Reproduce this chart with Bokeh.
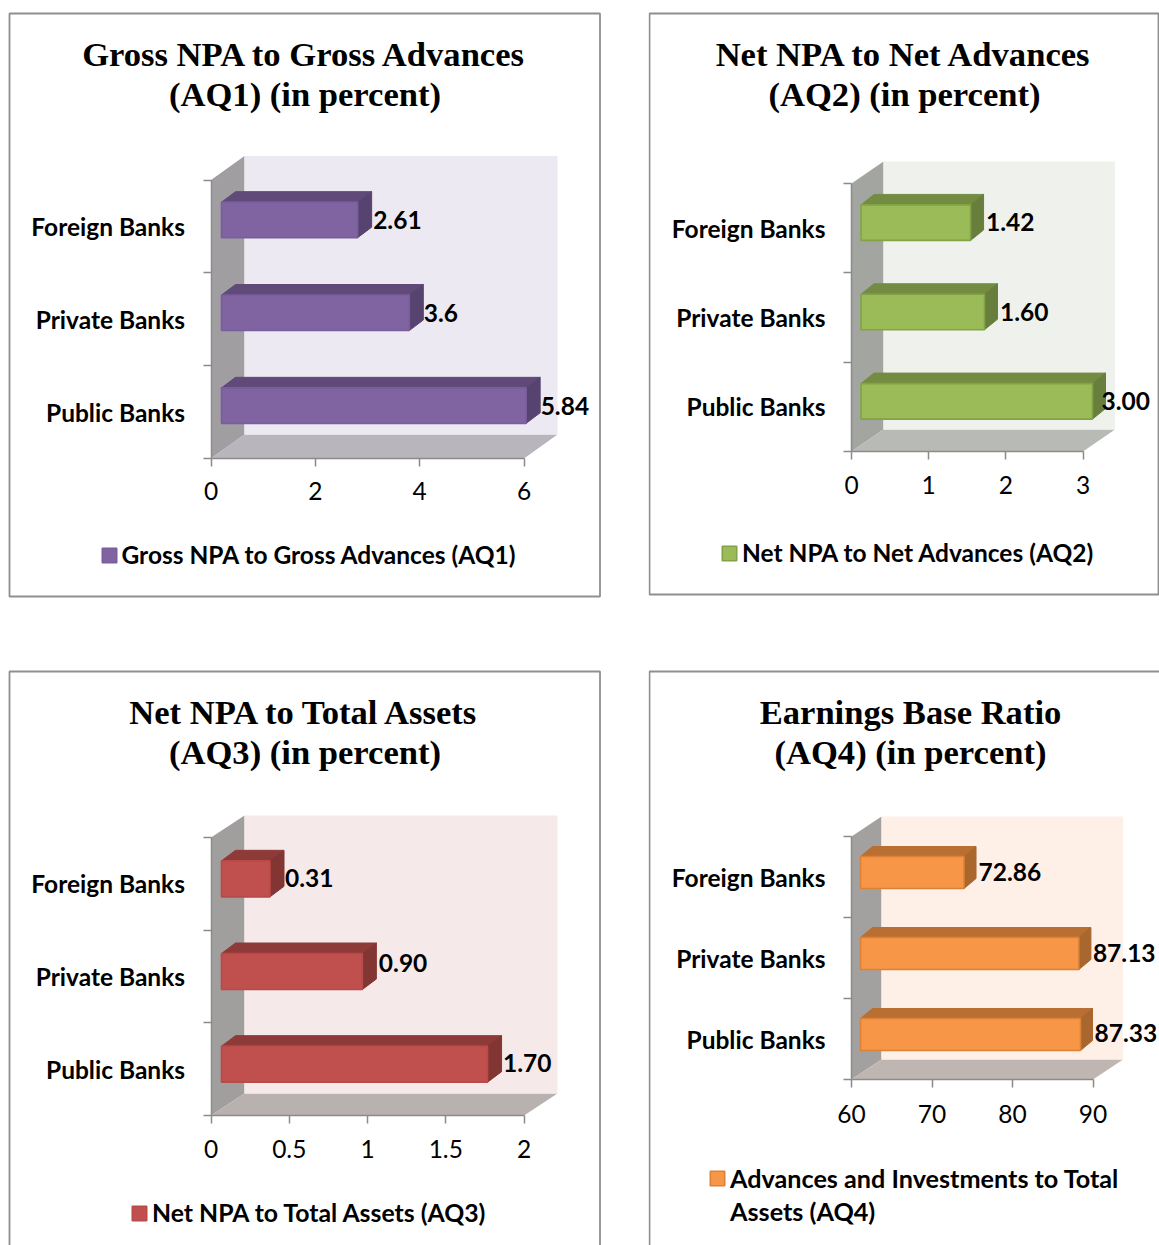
from bokeh.plotting import figure
from bokeh.layouts import column, row
from bokeh.models import Range1d, LinearAxis, FixedTicker, Legend, LegendItem
from bokeh.core.properties import value
from bokeh.embed import file_html
from bokeh.resources import INLINE

# ---------- data ----------
categories = ["Public Banks", "Private Banks", "Foreign Banks"]
aq1_values = [5.84, 3.6, 2.61]
aq1_labels = ["5.84", "3.6", "2.61"]
aq2_values = [3.00, 1.60, 1.42]
aq2_labels = ["3.00", "1.60", "1.42"]
aq3_values = [1.70, 0.90, 0.31]
aq3_labels = ["1.70", "0.90", "0.31"]
aq4_values = [87.33, 87.13, 72.86]
aq4_labels = ["87.33", "87.13", "72.86"]
aq1_ticks = [0, 2, 4, 6]
aq2_ticks = [0, 1, 2, 3]
aq3_ticks = [0, 0.5, 1, 1.5, 2]
aq4_ticks = [60, 70, 80, 90]
aq1_title = ["Gross NPA to Gross Advances", "(AQ1) (in percent)"]
aq2_title = ["Net NPA to Net Advances", "(AQ2) (in percent)"]
aq3_title = ["Net NPA to Total Assets", "(AQ3) (in percent)"]
aq4_title = ["Earnings Base Ratio", "(AQ4) (in percent)"]
aq1_legend = ["Gross NPA to Gross Advances (AQ1)"]
aq2_legend = ["Net NPA to Net Advances (AQ2)"]
aq3_legend = ["Net NPA to Total Assets (AQ3)"]
aq4_legend = ["Advances and Investments to Total", "Assets (AQ4)"]

SERIF = value("Liberation Serif")
SANS = "Lato"
AXIS_GREY = "#8b8b8b"
FS = "24.5px"


def panel(values, labels, ticks, title, legend, cfg):
    fl, ft, W, H = cfg["fig"]
    bx, by = cfg["base"]          # page pixel of (first tick, bottom of y axis)
    tick_px = cfg["x_end"] - bx
    x0, x1 = ticks[0], ticks[-1]
    sx = tick_px / (x1 - x0)      # px per value
    sy = (by - cfg["y_top"]) / 3  # px per category

    p = figure(width=W, height=H, output_backend="svg", toolbar_location=None,
               x_range=Range1d(x0 + (fl - bx) / sx, x0 + (fl + W - bx) / sx),
               y_range=Range1d((by - (ft + H)) / sy, (by - ft) / sy),
               min_border=0, min_border_left=0, min_border_right=0,
               min_border_top=0, min_border_bottom=0,
               x_axis_type=None, y_axis_type=None,
               background_fill_color="white", border_fill_color="white",
               outline_line_color=None)
    p.grid.visible = False

    # conversions from page pixels (layout only) into the plot's data space
    X = lambda px: x0 + (px - bx) / sx
    Y = lambda py: (by - py) / sy

    # panel frame
    l, t, r, b = cfg["box"]
    p.quad(left=[X(l)], right=[X(r)], top=[Y(t)], bottom=[Y(b)],
           fill_color=None, line_color="#8f8f8f", line_width=1.8)

    # 3-D walls
    wx, wy = cfg["wall"]
    ddx, ddy = wx / sx, wy / sy
    p.patch([x0, x0 + ddx, x0 + ddx, x0], [0, ddy, 3 + ddy, 3],
            fill_color=cfg["c_side"], line_color=None)
    p.patch([x0, x1, x1 + ddx, x0 + ddx], [0, 0, ddy, ddy],
            fill_color=cfg["c_floor"], line_color=None)
    p.quad(left=[x0 + ddx], right=[x1 + ddx], bottom=[ddy], top=[3 + ddy],
           fill_color=cfg["c_wall"], line_color=None)

    # bars
    off = cfg["bar_off"] / sx
    ex, ey = cfg["bar_depth"][0] / sx, cfg["bar_depth"][1] / sy
    half = cfg["bar_h"] / 2 / sy
    shift = cfg["bar_shift"] / sy
    lefts = [x0 + off] * 3
    rights = [v + off for v in values]
    centers = [i + 0.5 + shift for i in range(3)]
    bots = [c - half for c in centers]
    tops = [c + half for c in centers]
    p.patches([[a, a + ex, c + ex, c] for a, c in zip(lefts, rights)],
              [[t_, t_ + ey, t_ + ey, t_] for t_ in tops],
              fill_color=cfg["c_top"], line_color=cfg["c_top"], line_width=1)
    p.patches([[c, c + ex, c + ex, c] for c in rights],
              [[b_, b_ + ey, t_ + ey, t_] for b_, t_ in zip(bots, tops)],
              fill_color=cfg["c_end"], line_color=cfg["c_end"], line_width=1)
    front = p.quad(left=lefts, right=rights, bottom=bots, top=tops,
                   fill_color=cfg["c_bar"], line_color=cfg["c_line"], line_width=1.6)

    # value labels
    p.text([c + d / sx for c, d in zip(rights, cfg["lab_dx"])],
           [Y(py) for py in cfg["lab_y"]], text=labels,
           text_font=value(SANS), text_font_style="bold", text_font_size="24.5px",
           text_color="black", text_align="left", text_baseline="middle")

    # title
    p.text([X(cfg["title_x"])] * 2, [Y(py) for py in cfg["title_y"]], text=title,
           text_font=SERIF, text_font_style="bold", text_font_size="34.6px",
           text_color="black", text_align="center", text_baseline="middle")

    # axes
    xa = LinearAxis(ticker=FixedTicker(ticks=ticks), fixed_location=0, bounds=(x0, x1))
    xa.axis_line_color = AXIS_GREY
    xa.axis_line_width = 1.5
    xa.major_tick_line_color = AXIS_GREY
    xa.major_tick_line_width = 1.5
    xa.major_tick_in = 0
    xa.major_tick_out = 8
    xa.minor_tick_line_color = None
    xa.major_label_standoff = cfg["tick_standoff"]
    xa.major_label_text_font = SANS
    xa.major_label_text_font_size = FS
    xa.major_label_text_color = "black"
    xa.major_label_overrides = {t_: str(t_) for t_ in ticks}
    p.add_layout(xa, "below")

    ya = LinearAxis(ticker=FixedTicker(ticks=[0, 1, 2, 3]), fixed_location=x0, bounds=(0, 3))
    ya.axis_line_color = AXIS_GREY
    ya.axis_line_width = 1.5
    ya.major_tick_line_color = AXIS_GREY
    ya.major_tick_line_width = 1.5
    ya.major_tick_in = 0
    ya.major_tick_out = 8
    ya.minor_tick_line_color = None
    ya.major_label_overrides = {0: "", 1: "", 2: "", 3: ""}
    p.add_layout(ya, "left")

    ca = LinearAxis(ticker=FixedTicker(ticks=[0.5, 1.5, 2.5]), fixed_location=x0)
    ca.axis_line_color = None
    ca.major_tick_line_color = None
    ca.minor_tick_line_color = None
    ca.major_tick_in = 0
    ca.major_tick_out = 0
    ca.major_label_standoff = 26
    ca.major_label_text_font = SANS
    ca.major_label_text_font_style = "bold"
    ca.major_label_text_font_size = FS
    ca.major_label_text_color = "black"
    ca.major_label_overrides = {0.5: categories[0], 1.5: categories[1], 2.5: categories[2]}
    p.add_layout(ca, "left")

    # legend
    lx, ly = cfg["legend"]
    items = [LegendItem(label=legend[0], renderers=[front])]
    for extra_line in legend[1:]:
        blank = p.quad(left=lefts, right=rights, bottom=bots, top=tops,
                       fill_color=None, line_color=None)
        items.append(LegendItem(label=extra_line, renderers=[blank]))
    leg = Legend(items=items,
                 location=(lx - fl, ft + H - ly), padding=0, margin=0, spacing=cfg.get("leg_space", 0),
                 border_line_color=None, background_fill_alpha=0,
                 glyph_width=18, glyph_height=18, label_standoff=4,
                 label_text_font=SANS, label_text_font_style="bold",
                 label_text_font_size=cfg.get("leg_fs", FS), label_text_color="black")
    p.add_layout(leg, "center")
    return p


p1 = panel(aq1_values, aq1_labels, aq1_ticks, aq1_title, aq1_legend, dict(
    fig=(0, 0, 648, 655), base=(210.5, 458), x_end=523.5, y_top=179.5, box=(9, 13, 599.5, 596),
    wall=(33.5, 24), bar_off=10.5, bar_depth=(14, 10.5), bar_h=35.5, bar_shift=6.5,
    c_side="#a09ea1", c_floor="#b9b5bc", c_wall="#ece9f2",
    c_bar="#8064a2", c_line="#7a5d9c", c_top="#5f4a7a", c_end="#574370",
    lab_dx=[14.5, 14.5, 15.5], lab_y=[405, 312, 219], title_x=304.5, title_y=[53, 93],
    tick_standoff=15, legend=(99.5, 569)))
p2 = panel(aq2_values, aq2_labels, aq2_ticks, aq2_title, aq2_legend, dict(
    fig=(648, 0, 511, 655), base=(851, 451), x_end=1082.5, y_top=183, box=(649, 13, 1158, 594),
    wall=(32, 22), bar_off=9.5, bar_depth=(13, 10.5), bar_h=35.5, bar_shift=5.5,
    c_side="#a3a5a1", c_floor="#b8bbb5", c_wall="#eff2ec",
    c_bar="#9bbb59", c_line="#82a345", c_top="#748c42", c_end="#687e3c",
    lab_dx=[9, 15.5, 15.5], lab_y=[400, 311, 221], title_x=904, title_y=[53, 93],
    tick_standoff=16, legend=(720, 567)))
p3 = panel(aq3_values, aq3_labels, aq3_ticks, aq3_title, aq3_legend, dict(
    fig=(0, 655, 648, 590), base=(210.5, 1115), x_end=523.5, y_top=837, box=(9, 671, 599.5, 1290),
    wall=(33.5, 22), bar_off=10.5, bar_depth=(14, 10.5), bar_h=36, bar_shift=5,
    c_side="#a19e9e", c_floor="#b9b0b0", c_wall="#f5e9e9",
    c_bar="#c0504d", c_line="#b84a47", c_top="#8e3a38", c_end="#833533",
    lab_dx=[15.5, 16.5, 15], lab_y=[1062, 962, 877], title_x=304.5, title_y=[711, 751],
    tick_standoff=16, legend=(130, 1227), leg_fs="24.8px"))
p4 = panel(aq4_values, aq4_labels, aq4_ticks, aq4_title, aq4_legend, dict(
    fig=(648, 655, 511, 590), base=(851, 1079), x_end=1092.5, y_top=836, box=(649, 671, 1200, 1290),
    wall=(30, 20), bar_off=9, bar_depth=(12, 10), bar_h=32, bar_shift=4.5,
    c_side="#a3a19f", c_floor="#bfb6b1", c_wall="#feefe7",
    c_bar="#f79646", c_line="#d98238", c_top="#b96f32", c_end="#a9662d",
    lab_dx=[14, 14, 14.5], lab_y=[1032, 952, 871], title_x=910, title_y=[711, 751],
    tick_standoff=17, legend=(708, 1226), leg_space=3, leg_fs="25.2px"))

layout = column(row(p1, p2, spacing=0), row(p3, p4, spacing=0), spacing=0)
open("out.html", "w").write(file_html(layout, INLINE))
